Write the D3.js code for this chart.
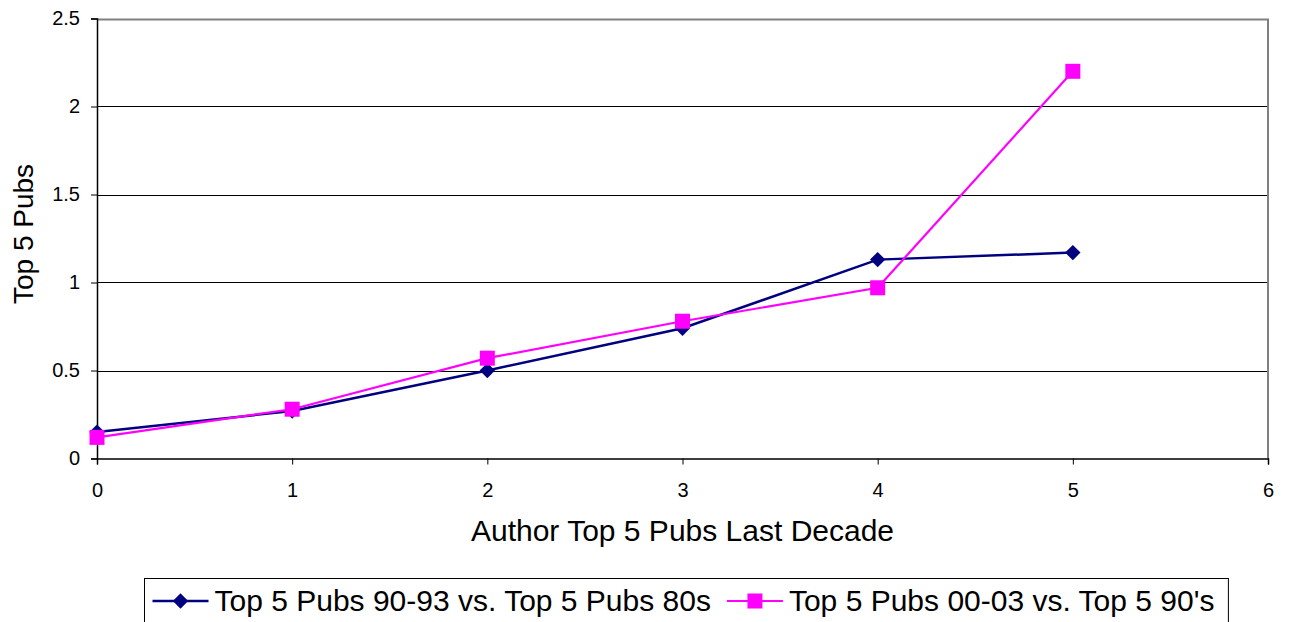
<!DOCTYPE html>
<html>
<head>
<meta charset="utf-8">
<script src="https://cdn.jsdelivr.net/npm/d3@7"></script>
<style>
  html, body { margin: 0; padding: 0; background: #fff; }
  svg { display: block; font-family: Arial, "Liberation Sans", sans-serif; }
</style>
</head>
<body>
<svg id="chart" width="1290" height="622"></svg>
<script>
// Publication counts by author's top-5 output in the previous decade
const xValues = [0, 1, 2, 3, 4, 5];
const series80s = [0.15, 0.27, 0.50, 0.74, 1.13, 1.17];
const series90s = [0.12, 0.28, 0.57, 0.78, 0.97, 2.20];
const seriesNames = ["Top 5 Pubs 90-93 vs. Top 5 Pubs 80s", "Top 5 Pubs 00-03 vs. Top 5 90's"];
const xTicks = [0, 1, 2, 3, 4, 5, 6];
const yTicks = [0, 0.5, 1, 1.5, 2, 2.5];
const xTitle = "Author Top 5 Pubs Last Decade";
const yTitle = "Top 5 Pubs";

const svg = d3.select("#chart");
const plot = { left: 97, right: 1268, top: 18.5, bottom: 458.5 };

const x = d3.scaleLinear().domain([0, 6]).range([plot.left, plot.right]);
const y = d3.scaleLinear().domain([0, 2.5]).range([plot.bottom, plot.top]);

// gridlines
svg.append("g")
  .selectAll("line")
  .data(yTicks.filter(d => d > 0 && d < 2.5))
  .join("line")
  .attr("x1", plot.left).attr("x2", plot.right)
  .attr("y1", d => Math.round(y(d)) + 0.5).attr("y2", d => Math.round(y(d)) + 0.5)
  .attr("stroke", "#000").attr("stroke-width", 1);

// plot frame: grey on top and right
svg.append("path")
  .attr("d", `M${plot.left},${Math.round(y(2.5)) + 0.5}H${plot.right}V${plot.bottom}`)
  .attr("fill", "none").attr("stroke", "#808080").attr("stroke-width", 2);

// y axis
const yAxis = svg.append("g")
  .attr("transform", `translate(${plot.left},0)`)
  .call(d3.axisLeft(y).tickValues(yTicks).tickFormat(d3.format("")).tickSize(6).tickPadding(11));
yAxis.attr("font-size", null).attr("font-family", null);
yAxis.select(".domain").attr("stroke", "#000").attr("stroke-width", 1.5);
yAxis.selectAll(".tick line").attr("stroke", "#000");
yAxis.selectAll("text").style("font-size", "20px").attr("fill", "#000");

// x axis
const xAxis = svg.append("g")
  .attr("transform", `translate(0,${plot.bottom})`)
  .call(d3.axisBottom(x).tickValues(xTicks).tickFormat(d3.format("d")).tickSize(6).tickPadding(18));
xAxis.attr("font-size", null).attr("font-family", null);
xAxis.select(".domain").attr("stroke", "#000").attr("stroke-width", 1.5);
xAxis.selectAll(".tick line").attr("stroke", "#000");
xAxis.selectAll("text").style("font-size", "20px").attr("fill", "#000");

// axis titles
svg.append("text")
  .attr("x", (plot.left + plot.right) / 2).attr("y", 541)
  .attr("text-anchor", "middle").style("font-size", "30px").text(xTitle);
svg.append("text")
  .attr("transform", "translate(33,234) rotate(-90)")
  .attr("text-anchor", "middle").style("font-size", "28px").text(yTitle);

const line = d3.line().x((d, i) => x(xValues[i])).y(d => y(d));
const diamond = d3.symbol().type(d3.symbolDiamond2).size(150);
const square = d3.symbol().type(d3.symbolSquare).size(225);

const defs = [
  { values: series80s, color: "#000080", width: 2.5, symbol: diamond },
  { values: series90s, color: "#FF00FF", width: 2.2, symbol: square }
];

defs.forEach(s => {
  svg.append("path")
    .datum(s.values)
    .attr("d", line)
    .attr("fill", "none")
    .attr("stroke", s.color)
    .attr("stroke-width", s.width);
});
defs.forEach(s => {
  svg.append("g")
    .selectAll("path")
    .data(s.values)
    .join("path")
    .attr("d", s.symbol)
    .attr("transform", (d, i) => `translate(${x(xValues[i])},${y(d)})`)
    .attr("fill", s.color);
});

// legend
const legend = svg.append("g");
const legendBox = legend.append("rect")
  .attr("x", 144.5).attr("y", 578.5).attr("height", 80)
  .attr("fill", "#fff").attr("stroke", "#000").attr("stroke-width", 1);
let cursor = 152.5;
const legendY = 601;
defs.forEach((s, i) => {
  legend.append("line")
    .attr("x1", cursor).attr("x2", cursor + 56)
    .attr("y1", legendY).attr("y2", legendY)
    .attr("stroke", s.color).attr("stroke-width", s.width);
  legend.append("path")
    .attr("d", s.symbol)
    .attr("transform", `translate(${cursor + 28},${legendY})`)
    .attr("fill", s.color);
  const t = legend.append("text")
    .attr("x", cursor + 62).attr("y", 610.5)
    .style("font-size", "30px").text(seriesNames[i]);
  cursor = cursor + 62 + t.node().getComputedTextLength() + 16;
});
legendBox.attr("width", cursor - 144.5 - 2);
</script>
</body>
</html>
